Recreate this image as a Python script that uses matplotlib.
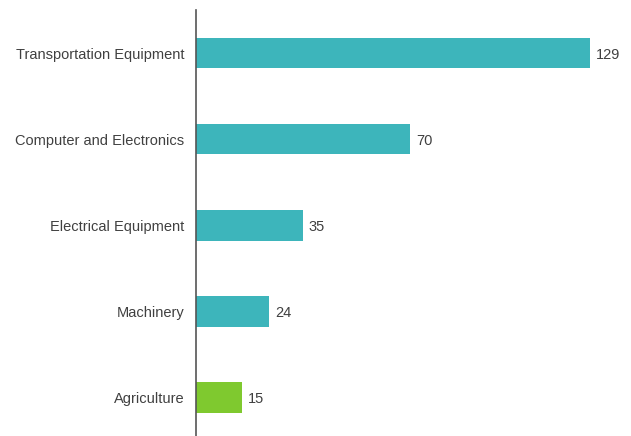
import matplotlib
matplotlib.use("Agg")
import matplotlib.pyplot as plt

categories = ["Transportation Equipment", "Computer and Electronics",
              "Electrical Equipment", "Machinery", "Agriculture"]
values = [129, 70, 35, 24, 15]
colors = ["#3db5bb", "#3db5bb", "#3db5bb", "#3db5bb", "#7fc92f"]

plt.rcParams["font.family"] = ["Liberation Sans", "DejaVu Sans"]

fig = plt.figure(figsize=(6.31, 4.36), dpi=100)
ax = fig.add_axes([196 / 631, 0, 1 - 196 / 631, 1 - 10 / 436])

pos = list(range(len(categories)))
ax.barh(pos, values, height=0.36, color=colors)
for p, v in zip(pos, values):
    ax.text(v + 2, p, str(v), va="center_baseline", ha="left", fontsize=10.5, color="#404040")

ax.set_xlim(0, 142.5)
ax.set_ylim(4.453, -0.5)
ax.set_yticks(pos)
ax.set_yticklabels(categories, fontsize=10.5, color="#404040")
ax.tick_params(axis="y", length=0, pad=8.5)
ax.set_xticks([])
for s in ["top", "right", "bottom"]:
    ax.spines[s].set_visible(False)
ax.spines["left"].set_color("#555555")
ax.spines["left"].set_linewidth(1.2)

fig.savefig("out.png", dpi=100)
